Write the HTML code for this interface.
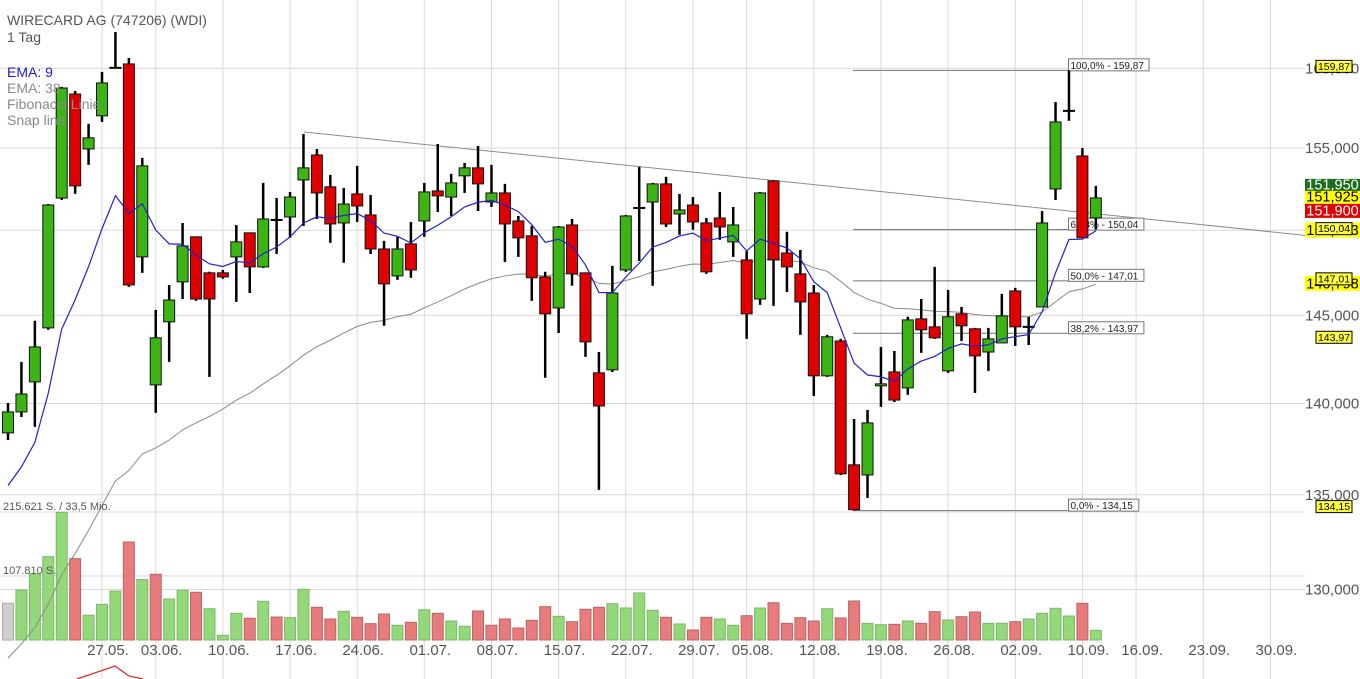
<!DOCTYPE html>
<html><head><meta charset="utf-8">
<style>
html,body{margin:0;padding:0;background:#fff;}
svg{display:block;font-family:"Liberation Sans",Arial,sans-serif;}
</style></head>
<body>
<svg id="chart" width="1360" height="679" viewBox="0 0 1360 679" xmlns="http://www.w3.org/2000/svg">
<defs><clipPath id="pane"><rect x="0" y="0" width="1305" height="679"/></clipPath></defs>
<g id="grid"></g>
<g id="vol"></g>
<g id="overlay" clip-path="url(#pane)"></g>
<g id="candles"></g>
<g id="axis"></g>
<g id="xaxis"></g>
<g>
<text x="7" y="25" font-size="14" fill="#555">WIRECARD AG (747206) (WDI)</text>
<text x="7" y="42" font-size="14" fill="#555">1 Tag</text>
<text x="7" y="77" font-size="14" fill="#1a1ad0">EMA: 9</text>
<text x="7" y="93" font-size="14" fill="#8a8a8a">EMA: 38</text>
<text x="7" y="109" font-size="14" fill="#8a8a8a">Fibonacci Linie</text>
<text x="7" y="125" font-size="14" fill="#8a8a8a">Snap line</text>
</g>
<text x="3" y="510" font-size="11" fill="#555">215.621 S. / 33,5 Mio.</text>
<text x="3" y="574" font-size="11" fill="#555">107.810 S.</text>
</svg>
<script>
const opens=[138370,139530,141210,144280,151940,158370,154940,157000,160030,160280,148420,141040,144630,146950,149610,147480,147480,148420,149850,147830,150620,150800,153040,154570,152620,150440,152190,150920,148890,147300,149190,150560,152370,152000,153290,153780,151700,152250,150560,149670,147240,145430,150320,147480,141720,141890,147650,151340,151700,152800,150980,151520,150440,150740,149310,148240,145950,152980,148650,147420,146300,141550,143530,136620,136070,140990,141770,140870,144800,144340,141830,145090,144230,142900,143420,146420,144340,145490,152490,157310,154510,150740];
const highs=[140030,142340,144690,151580,158820,158560,156500,159770,162330,160660,154390,145320,146770,150440,149610,147540,147650,150320,149850,152860,151940,152310,155870,154940,153350,152560,153900,152130,149370,149610,150500,152860,155250,153410,154080,155120,153960,152800,150860,150260,147540,150260,150680,147480,142900,147890,150920,153840,152860,153230,152190,152000,150740,152310,151400,148770,152310,153040,149910,148830,146770,143880,143650,139140,139640,143190,142960,144920,145950,147830,146480,145490,144280,144280,146250,146600,144920,151160,157870,159870,155000,152680];
const lows=[137980,139250,138700,144170,151820,152190,153960,156620,160030,146660,147480,139480,142340,145950,145840,141490,147130,145780,146300,147770,148590,149550,150260,150680,149250,148070,150500,148590,144400,147070,147190,149610,151100,150860,152250,151160,151400,148120,148420,145840,141440,143990,146720,142620,135260,141770,147540,148180,146720,150200,149730,150030,147420,149430,148420,143650,145610,145550,146360,143880,140420,141490,136070,134150,134830,139810,140080,140480,142850,143650,141720,143530,140590,141830,143420,143250,143300,145490,151820,156690,149550,150040];
const closes=[139530,140530,143190,151520,158750,152680,155630,159070,160030,146770,153900,143710,145890,149070,145950,145950,147240,149310,147830,150680,150620,152000,153780,152250,150380,151580,151460,148890,146830,148890,147650,152310,152070,152860,153780,152800,152250,150380,149550,147190,145090,150200,147420,143480,139860,146300,150860,151340,152800,150380,151220,150500,147540,150200,150320,145090,152250,148240,147830,145780,141550,143770,136130,134200,138920,141100,140190,144740,144170,143710,144920,144400,142680,143650,144970,144340,144340,150440,156620,157310,149550,151950];
const volumes=[61800,84200,111200,140300,215100,137000,41600,60100,82500,165100,101600,110700,69100,83700,80400,52700,7900,45000,36600,65200,38700,37600,85400,55100,35400,48300,38200,27500,43800,24800,29800,51000,45000,32000,23100,48900,24800,35400,20200,33200,56100,39900,30800,51700,55100,61100,53900,79200,50000,38200,27000,16800,38200,35400,24800,40900,53900,62800,28100,37600,32000,52700,37100,65700,28100,25800,26400,32000,28100,47700,33700,39200,47200,28100,28100,30800,35400,45000,53400,40400,61800,16300];
const dateLabels=["27.05.","03.06.","10.06.","17.06.","24.06.","01.07.","08.07.","15.07.","22.07.","29.07.","05.08.","12.08.","19.08.","26.08.","02.09.","10.09.","16.09.","23.09.","30.09."];
const dateIdx=[7,11,16,21,26,31,36,41,46,51,55,60,65,70,75,80,84,89,94];
const priceTicks=[160000,155000,150000,145000,140000,135000,130000];
const fibLevels=[159.87,150.04,147.01,143.97,134.15];
const fibPct=["100,0%","61,8%","50,0%","38,2%","0,0%"];
const ema9Seed=135500, ema38Seed=126500;
const volMax=215621;

const NS="http://www.w3.org/2000/svg";
function mk(parent,tag,attrs){const e=document.createElementNS(NS,tag);for(const k in attrs)e.setAttribute(k,attrs[k]);parent.appendChild(e);return e;}
const xS=i=>8+i*13.43;
const yS=p=>148-2510*Math.log(p/155000);
const vS=v=>640-v/volMax*128;
const fmt=(v,d)=>v.toFixed(d).replace('.',',');

const grid=document.getElementById('grid');
priceTicks.forEach(p=>{const l=mk(grid,'line',{x1:0,x2:1305,y1:yS(p),y2:yS(p),stroke:'#d9d9d9','stroke-width':1});

});
const vl=mk(grid,'line',{x1:0,x2:1305,y1:vS(volMax/2),y2:vS(volMax/2),stroke:'#d9d9d9'});


const vt=mk(grid,'line',{x1:0,x2:1305,y1:vS(volMax),y2:vS(volMax),stroke:'#d9d9d9'});


dateIdx.forEach(i=>{const l=mk(grid,'line',{x1:xS(i),x2:xS(i),y1:0,y2:679,stroke:'#d9d9d9'});

});

const vol=document.getElementById('vol');
volumes.forEach((v,i)=>{let f='#cfcfcf',s='#aaa';
if(i>0){if(closes[i]>=closes[i-1]){f='#93d97a';s='#7fb56c';}else{f='#e87b7b';s='#b86464';}}
const r=mk(vol,'rect',{x:xS(i)-5.5,y:vS(v),width:11,height:640-vS(v),fill:f,stroke:s,'stroke-width':1});

});

const ov=document.getElementById('overlay');
const tl=mk(ov,'line',{x1:304,y1:132,x2:1360,y2:241,stroke:'#8c8c8c','stroke-width':1});


fibLevels.forEach((f,k)=>{const y=yS(f*1000);
const l=mk(ov,'line',{x1:853,x2:1068,y1:y,y2:y,stroke:'#707070'});


const txt=fibPct[k]+' - '+fmt(f,2);
const w=txt.length*5.1+4;
const b=mk(ov,'rect',{x:1068.5,y:y-11.5,width:w,height:12,fill:'#fff',stroke:'#777'});


const t=mk(ov,'text',{x:1070.5,y:y-1.5,'font-size':10,fill:'#222'});t.textContent=txt;

});
function ema(seed,n){const a=2/(n+1);let e=seed;const out=[];closes.forEach((c,i)=>{if(i>0)e=e+a*(c-e);out.push(e);});return out;}
const e38=ema(ema38Seed,38),e9=ema(ema9Seed,9);
const p38=mk(ov,'polyline',{points:e38.map((v,i)=>xS(i)+','+yS(v)).join(' '),fill:'none',stroke:'#8a8a8a','stroke-width':1});



const cg=document.getElementById('candles');
closes.forEach((c,i)=>{const o=opens[i],x=xS(i);
const w=mk(cg,'line',{x1:x,x2:x,y1:yS(highs[i]),y2:yS(lows[i]),stroke:'#000','stroke-width':2.5});


if(Math.abs(c-o)<30){const d=mk(cg,'line',{x1:x-6,x2:x+6,y1:yS(c),y2:yS(c),stroke:'#000','stroke-width':2});

return;}
const top=yS(Math.max(o,c)),bot=yS(Math.min(o,c));
const r=mk(cg,'rect',{x:x-5.5,y:top,width:11,height:Math.max(bot-top,2),fill:c>o?'#3cb414':'#e00000',stroke:'#111','stroke-width':1});

});
const p9=mk(cg,'polyline',{points:e9.map((v,i)=>xS(i)+','+yS(v)).join(' '),fill:'none',stroke:'#2222cc','stroke-width':1.2});


const ind=mk(cg,'polyline',{points:'77,679 115,666 129,676 143,679',fill:'none',stroke:'#e02020','stroke-width':1.2});



const ax=document.getElementById('axis');
priceTicks.forEach(p=>{if(p===150000)return;const t=mk(ax,'text',{x:1305,y:yS(p)+5,'font-size':15,fill:'#555'});
t.textContent=Math.floor(p/1000)+','+String(p%1000).padStart(3,'0');

});
function tag(y,h,bg,fg,txt,x,w,box,name){const r=mk(ax,'rect',{x:x,y:y,width:w,height:h,fill:bg,stroke:box?'#000':'none'});


const t=mk(ax,'text',{x:x+w/2,y:y+h-2.5,'font-size':box?10.5:14.5,fill:fg,'text-anchor':'middle'});t.textContent=txt;

}
const lastY=yS(closes[closes.length-1]);
tag(lastY-19,13,'#1b6e1b','#fff','151,950',1305,55,false,'last-price-label');
tag(lastY-7,13,'#ffff00','#000','151,925',1305,55,false,'mid-price-label');
tag(lastY+6,14,'#e00000','#fff','151,900',1305,55,false,'bid-price-label');
tag(yS(150040)-7,15,'#ffff00','#000','150,043',1305,55,false,'ema9-value-label');
tag(yS(147010)-5,15,'#ffff00','#000','146,798',1305,55,false,'ema38-value-label');
const fibTagOffset=[-10,-7,-8,-2,-10];
fibLevels.forEach((f,k)=>tag(yS(f*1000)+fibTagOffset[k],12,'#ffff40','#000',fmt(f,2),1316,36,true,'fibonacci-axis-label'));

const xa=document.getElementById('xaxis');
dateLabels.forEach((d,k)=>{const t=mk(xa,'text',{x:xS(dateIdx[k])+6,y:655,'font-size':15,fill:'#555','text-anchor':'middle'});t.textContent=d;

});
</script>
</body></html>
